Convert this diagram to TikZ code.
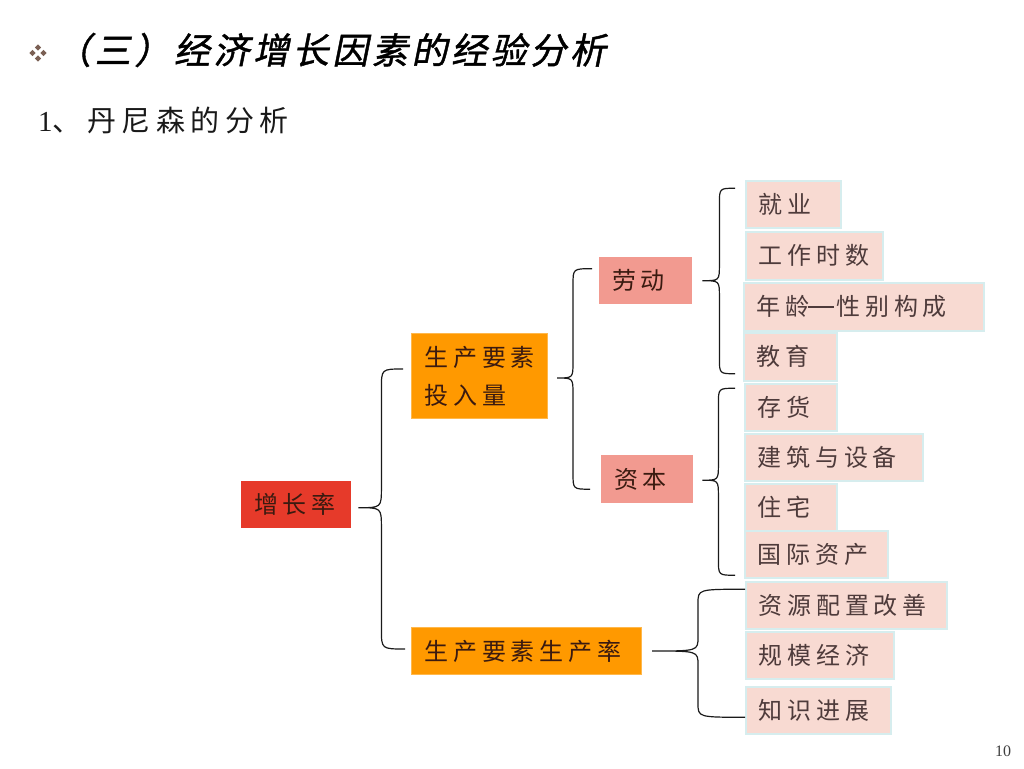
\documentclass[tikz,border=0pt]{standalone}
\usepackage{fontspec}
\usetikzlibrary{calc}
\newfontfamily\cjk{Noto Sans CJK SC}[LetterSpace=20]
\newfontfamily\cjksub{Noto Sans CJK SC}[LetterSpace=19]
\newfontfamily\cjktitle{Noto Sans CJK SC}[FakeSlant=0.2,FakeBold=1.2,LetterSpace=10]
\newfontfamily\serifnum{Liberation Serif}
\definecolor{hubred}{HTML}{E63A2A}
\definecolor{huborange}{HTML}{FF9900}
\definecolor{hubsalmon}{HTML}{F29A90}
\definecolor{leafpink}{HTML}{F8DAD2}
\definecolor{leafline}{HTML}{D6EDEE}
\definecolor{leaftext}{HTML}{4E3B3B}
\definecolor{hubtext}{HTML}{3A1A10}
\definecolor{bracecol}{HTML}{1A1A1A}
\definecolor{bulletcol}{HTML}{7B6054}
\newcommand\curly[5]{%
\draw[bracestyle] let \p1=(#1), \p2=(#2), \p3=(#3) in
 (\p2) .. controls ({\x1+#4},\y2) .. ({\x1+#4},{\y2-#5}) -- ({\x1+#4},{\y1+#5})
 .. controls ({\x1+#4},\y1) .. (\p1)
 .. controls ({\x1+#4},\y1) .. ({\x1+#4},{\y1-#5}) -- ({\x1+#4},{\y3+#5})
 .. controls ({\x1+#4},\y3) .. (\p3);}
\newcommand\longdash{\kern-2pt\rule[8pt]{26pt}{1.6pt}\kern3pt}
\begin{document}
\begin{tikzpicture}[x=1pt,y=-1pt,
  box/.style={rectangle, anchor=north west, inner ysep=0pt, inner xsep=13pt, align=left, font=\fontsize{24}{38}\cjk},
  leaf/.style={box, fill=leafpink, draw=leafline, line width=1.5pt, text=leaftext},
  hub/.style={box, text=hubtext},
  bracestyle/.style={draw=bracecol, line width=1.2pt}]
\useasboundingbox (0,0) rectangle (1024,768);
\fill[white] (0,0) rectangle (1024,768);
% bullet
\foreach \dx/\dy in {0/-5.5,-5.5/0,5.5/0,0/5.5}
  \fill[bulletcol] ($(38,53)+(\dx,\dy)+(0,-3.2)$) -- ++(3.2,3.2) -- ++(-3.2,3.2) -- ++(-3.2,-3.2) -- cycle;
% titles
\node[anchor=west, inner sep=0pt, font=\fontsize{36}{40}\cjktitle] (title) at (55,50) {（三）经济增长因素的经验分析};
\node[anchor=west, inner sep=0pt, text=black!90] (sub) at (38,120) {\fontsize{29}{32}\serifnum 1\cjksub 、丹尼森的分析};
\node[anchor=center, inner sep=0pt, font=\fontsize{16}{18}\serifnum, text=black!75] (page) at (1003,751) {10};
% hubs
\node[hub, fill=hubred, minimum height=47pt, text width=84pt] (g) at (241,481) {增长率};
\node[hub, fill=huborange, draw=huborange!70!white, line width=1pt, minimum height=85pt, text width=110pt] (inp) at (411,333) {生产要素\\投入量};
\node[hub, fill=hubsalmon, minimum height=47pt, text width=67pt] (laodong) at (599,257) {劳动};
\node[hub, fill=hubsalmon, minimum height=48pt, text width=66pt] (ziben) at (601,455) {资本};
\node[hub, fill=huborange, draw=huborange!70!white, line width=1pt, minimum height=47pt, text width=204pt] (tfp) at (411,627) {生产要素生产率};
% leaves
\node[leaf, minimum height=47pt, text width=69pt] (jiuye) at (745,180) {就业};
\node[leaf, minimum height=48pt, text width=111pt] (gongzuo) at (745,231) {工作时数};
\node[leaf, minimum height=48pt, text width=214pt] (nianling) at (743,282) {年龄\longdash 性别构成};
\node[leaf, minimum height=48pt, text width=67pt] (jiaoyu) at (743,332) {教育};
\node[leaf, minimum height=47pt, text width=66pt] (cunhuo) at (744,383) {存货};
\node[leaf, minimum height=47pt, text width=152pt] (jianzhu) at (744,433) {建筑与设备};
\node[leaf, minimum height=47pt, text width=66pt] (zhuzhai) at (744,483) {住宅};
\node[leaf, minimum height=47pt, text width=117pt] (guoji) at (744,530) {国际资产};
\node[leaf, minimum height=47pt, text width=175pt] (ziyuan) at (745,581) {资源配置改善};
\node[leaf, minimum height=47pt, text width=122pt] (guimo) at (745,631) {规模经济};
\node[leaf, minimum height=47pt, text width=119pt] (zhishi) at (745,686) {知识进展};
% brace end points
\coordinate (b1t) at ($(g.east)+(7,3)$);
\coordinate (b1a) at ($(inp.west)+(-8,-7)$);
\coordinate (b1b) at ($(tfp.west)+(-6,-2)$);
\coordinate (b2t) at ($(inp.east)+(9,2)$);
\coordinate (b2a) at ($(laodong.west)+(-7,-12)$);
\coordinate (b2b) at ($(ziben.west)+(-11,10)$);
\coordinate (b3t) at ($(laodong.east)+(10,0)$);
\coordinate (b3a) at ($(jiuye.west)+(-10,-16)$);
\coordinate (b3b) at ($(jiaoyu.west)+(-8,17)$);
\coordinate (b4t) at ($(ziben.east)+(9,1)$);
\coordinate (b4a) at ($(cunhuo.west)+(-9,-19)$);
\coordinate (b4b) at ($(guoji.west)+(-9,21)$);
\coordinate (b5t) at ($(tfp.east)+(10,0)$);
\coordinate (b5a) at ($(ziyuan.west)+(0,-16)$);
\coordinate (b5b) at ($(zhishi.west)+(0,7)$);
% braces
\curly{b1t}{b1a}{b1b}{23pt}{20pt}
\curly{b2t}{b2a}{b2b}{16pt}{16pt}
\curly{b3t}{b3a}{b3b}{17pt}{16pt}
\curly{b4t}{b4a}{b4b}{16pt}{16pt}
\curly{b5t}{b5a}{b5b}{46pt}{14pt}
\end{tikzpicture}
\end{document}
